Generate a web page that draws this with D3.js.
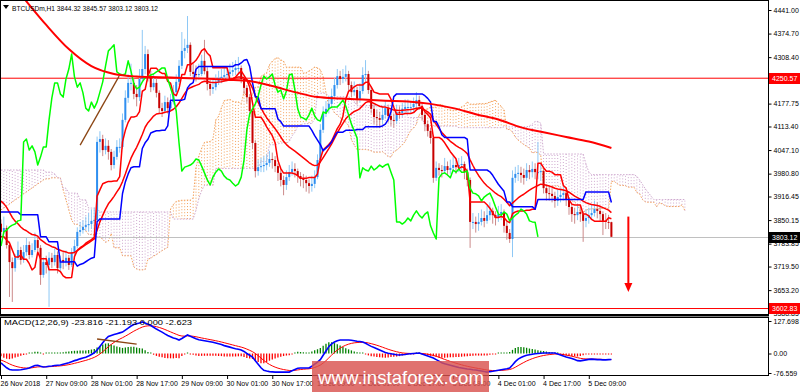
<!DOCTYPE html>
<html><head><meta charset="utf-8">
<script src="https://cdn.jsdelivr.net/npm/d3@7"></script>
<style>body{margin:0;background:#fff}svg{display:block}text{font-family:"Liberation Sans",Arial,sans-serif}</style>
</head><body><svg id="c" width="800" height="392"></svg>
<script>
// ---------------- DATA (BTCUSDm, H1) ----------------
const opens=[3840,3817,3828,3780,3732,3715,3744,3766,3738,3760,3780,3752,3766,3794,3772,3696,3732,3724,3744,3732,
3752,3715,3738,3732,3744,3724,3760,3777,3817,3822,3831,3836,3839,3848,3850,4070,4078,4047,4059,4042,
4005,4028,4056,4056,4132,4194,4236,4236,4205,4196,4247,4275,4317,4253,4224,4236,4208,4165,4157,4182,
4165,4182,4210,4239,4284,4326,4334,4343,4267,4261,4258,4261,4298,4269,4233,4219,4224,4239,4250,4253,
4258,4261,4267,4272,4278,4278,4247,4222,4196,4157,4067,3988,3999,4002,4005,4011,4022,4019,4002,3983,
3963,3949,3971,3985,3994,3988,3974,3966,3963,3954,3946,3952,3971,4019,4104,4149,4163,4177,4199,4230,
4255,4247,4253,4261,4230,4210,4216,4191,4213,4258,4261,4216,4163,4140,4137,4132,4146,4165,4143,4132,
4129,4154,4151,4163,4168,4168,4168,4177,4188,4171,4146,4120,4101,4081,3969,3997,3991,3988,4002,3991,
3997,4005,3999,4005,4008,3985,3963,3845,3845,3839,3845,3856,3848,3864,3876,3864,3856,3867,3873,3834,
3814,3797,3969,3980,3983,3977,3969,3991,3985,3994,3985,3985,3988,3940,3926,3924,3918,3904,3915,3921,
3926,3909,3887,3867,3864,3873,3867,3848,3856,3864,3870,3881,3876,3867,3848,3845,3844.32];
const highs=[3852,3860,3835,3790,3745,3755,3790,3775,3780,3800,3790,3785,3815,3805,3780,3745,3750,3760,3758,3770,
3762,3750,3760,3765,3752,3772,3795,3830,3845,3850,3860,3870,3880,3885,4085,4100,4090,4080,4075,4050,
4045,4075,4080,4150,4215,4260,4290,4250,4230,4275,4385,4340,4330,4270,4260,4250,4215,4180,4200,4195,
4205,4230,4260,4300,4379,4360,4424,4350,4290,4285,4290,4315,4357,4280,4245,4245,4260,4270,4275,4280,
4282,4290,4295,4300,4309,4285,4255,4230,4205,4165,4075,4020,4025,4030,4035,4045,4040,4030,4010,3995,
3975,3990,4005,4015,4010,3995,3985,3980,3975,3965,3975,3990,4035,4120,4170,4185,4200,4220,4250,4275,
4270,4275,4285,4270,4240,4240,4225,4235,4280,4300,4270,4225,4175,4160,4155,4170,4185,4175,4160,4150,
4175,4170,4180,4190,4190,4185,4195,4210,4200,4180,4155,4130,4110,4090,4015,4010,4005,4025,4015,4020,
4030,4020,4025,4030,4015,3995,3970,3870,3860,3870,3880,3875,3890,3900,3885,3875,3890,3895,3880,3845,
3825,3990,4000,4005,4000,3995,4010,4005,4015,4010,4070,4010,3995,3950,3945,3940,3930,3935,3940,3945,
3935,3915,3895,3885,3895,3890,3875,3880,3885,3895,3905,3900,3890,3875,3870,3865,3845.57];
const lows=[3805,3810,3770,3634,3620,3705,3738,3725,3730,3750,3740,3745,3760,3760,3668,3688,3700,3606,3715,3722,
3700,3705,3712,3720,3710,3718,3750,3770,3805,3812,3820,3818,3825,3820,3845,4040,4030,4035,4020,3990,
3995,4020,4040,4050,4125,4180,4215,4190,4170,4185,4240,4260,4240,4210,4215,4195,4150,4140,4150,4150,
4160,4175,4200,4230,4275,4305,4320,4255,4245,4240,4245,4255,4260,4215,4200,4205,4215,4230,4235,4240,
4245,4250,4255,4258,4262,4235,4205,4180,4140,4050,3970,3975,3985,3985,3990,4000,3995,3985,3960,3945,
3920,3935,3960,3975,3970,3955,3945,3940,3930,3925,3930,3940,3965,4010,4095,4140,4150,4165,4190,4220,
4230,4235,4240,4215,4195,4200,4175,4180,4205,4240,4205,4150,4120,4115,4110,4120,4135,4125,4115,4110,
4120,4135,4140,4150,4150,4150,4155,4165,4160,4130,4100,4085,4065,3955,3960,3975,3970,3980,3975,3980,
3985,3980,3985,3990,3965,3945,3772,3825,3815,3820,3835,3830,3840,3850,3840,3835,3845,3850,3815,3795,
3786,3746,3955,3960,3955,3950,3960,3965,3970,3965,3965,3960,3925,3905,3905,3900,3885,3890,3900,3905,
3890,3865,3845,3840,3850,3845,3789,3830,3840,3850,3860,3855,3845,3808,3825,3825,3803.12];
const closes=[3817,3828,3780,3732,3715,3744,3766,3738,3760,3780,3752,3766,3794,3772,3696,3732,3724,3744,3732,3752,
3715,3738,3732,3744,3724,3760,3777,3817,3822,3831,3836,3839,3848,3850,4070,4078,4047,4059,4042,4005,
4028,4056,4056,4132,4194,4236,4236,4205,4196,4247,4275,4317,4253,4224,4236,4208,4165,4157,4182,4165,
4182,4210,4239,4284,4326,4334,4343,4267,4261,4258,4261,4298,4269,4233,4219,4224,4239,4250,4253,4258,
4261,4267,4272,4278,4278,4247,4222,4196,4157,4067,3988,3999,4002,4005,4011,4022,4019,4002,3983,3963,
3949,3971,3985,3994,3988,3974,3966,3963,3954,3946,3952,3971,4019,4104,4149,4163,4177,4199,4230,4255,
4247,4253,4261,4230,4210,4216,4191,4213,4258,4261,4216,4163,4140,4137,4132,4146,4165,4143,4132,4129,
4154,4151,4163,4168,4168,4168,4177,4188,4171,4146,4120,4101,4081,3969,3997,3991,3988,4002,3991,3997,
4005,3999,4005,4008,3985,3963,3845,3845,3839,3845,3856,3848,3864,3876,3864,3856,3867,3873,3834,3814,
3797,3969,3980,3983,3977,3969,3991,3985,3994,3985,3985,3988,3940,3926,3924,3918,3904,3915,3921,3926,
3909,3887,3867,3864,3873,3867,3848,3856,3864,3870,3881,3876,3867,3848,3845,3844.32,3803.12];

// MACD(12,26,9) main line
const macd=[-37,-47,-56,-63,-65,-65,-65,-64,-62,-60,-57,-52,-47,-46,-50,-53,-52,-50,-49,-47,-46,
-45,-42,-39,-36,-32,-28,-25,-21,-18,-15,-10,-4,3,14,28,42,56,67,71,75,78,81,84,92,100,108,114,117,120,124,
120,115,110,103,96,90,84,77,71,66,61,58,53,59,66,73,68,63,58,54,52,50,48,46,44,41,38,35,31,28,25,22,
19,17,14,8,0,-7,-14,-28,-42,-56,-66,-69,-71,-72,-73,-73,-73,-73,-73,-73,-68,-63,-58,-57,-57,-57,-57,-50,
-42,-34,-24,-7,10,27,38,45,50,53,53,53,53,52,50,48,47,45,40,34,28,24,19,14,9,4,1,-1,-3,-5,-6,-5,
-4,-2,-1,0,1,2,-2,-6,-10,-14,-18,-24,-30,-36,-40,-43,-46,-49,-52,-55,-57,-59,-61,-62,-64,-65,
-67,-69,-71,-73,-71,-70,-68,-66,-64,-62,-60,-57,-45,-32,-22,-16,-11,-7,-5,-3,-1,0,1,2,2,2,2,2,
-2,-6,-10,-14,-17,-20,-24,-28,-29,-27,-25,-23,-22,-23,-24,-24,-25,-25,-24,-23.816];
const signalSeed=-23;

const tenkanHead=[3803,3803,3794,3786,3766,3746,3746,3752];
const kijunHead=[3873,3873,3873,3873,3873,3873,3873,3865,3865,3865,3865,3865,3865,3865,3803,3803,3803,3789,3789,3789,3789,3732,3732,3732,3732];
const spanAHead=[3879,3884,3890,3895,3901,3907,3912,3918,3924,3929,3935,3940,3946,3952,3957,3963,3966,3966,3969,3969,3969,3969,3935,3907,3879,3850];
const spanBHead=[3991,3991,3991,3991,3991,3991,3991,3991,3991,3991,3991,3991,3991,3991,3991,3991,3985,3985,3985,3980,3969,3969,3940,3940,3926,3926,3926,3926,3907,3907,3907,3884,3884,3884,3884,
3873,3873,3873,3873,3873,3873,3873,3873,3873,3873,3873,3873,3873,3873,3873,3873,3873,3873,3873,3873,3873,3873,3873,3873,3873,3873];
const ema21Seed=3912;
const ma200Step=8;
const ma200=[4553,4475,4399,4331,4283,4261,4254,4252,4250,4248,4245,4241,4227,4210,4196,4192,4189,4186,4184,4177,4165,4148,4133,4111,4097,4084,4071,4053];

const priceTicks=[4441.00,4374.70,4308.40,4242.10,4177.75,4113.40,4047.10,3980.80,3916.45,3850.15,3783.85,3719.50,3653.20,3588.85];
const macdTicks=[127.698,0,-76.559];
const macdTickLabels=["127.698","0.00","-76.559"];
const timeTickBars=[0,16,32,48,64,80,96,112,128,144,160,176,192,208];
const timeTickLabels=["26 Nov 2018","27 Nov 09:00","28 Nov 01:00","28 Nov 17:00","29 Nov 09:00","30 Nov 01:00","30 Nov 17:00","1 Dec 09:00","2 Dec 01:00","2 Dec 17:00","3 Dec 09:00","4 Dec 01:00","4 Dec 17:00","5 Dec 09:00"];
const levelPrices=[4250.57,3602.83];
const lastPrice=3803.12;
const trendMain=[[28,4061],[41.8,4255]];
const trendMacd=[[34,57],[48,37]];
const arrowBar=222, arrowFrom=3860, arrowTo=3648;

// ---------------- INDICATORS ----------------
const N=closes.length, NC=N+26;
function midRange(i,len){let hh=-Infinity,ll=Infinity;for(let k=Math.max(0,i-len+1);k<=i;k++){hh=Math.max(hh,highs[k]);ll=Math.min(ll,lows[k]);}return (hh+ll)/2;}
const tenkan=d3.range(N).map(i=>i<tenkanHead.length?tenkanHead[i]:midRange(i,9));
const kijun=d3.range(N).map(i=>i<kijunHead.length?kijunHead[i]:midRange(i,26));
const spanA=d3.range(NC).map(j=>j<spanAHead.length?spanAHead[j]:(tenkan[j-26]+kijun[j-26])/2);
const spanB=d3.range(NC).map(j=>j<spanBHead.length?spanBHead[j]:midRange(j-26,52));
let e21=ema21Seed; const ema21=closes.map(c=>(e21+= (c-e21)*2/22));
let sg=signalSeed; const signal=macd.map(v=>(sg+=(v-sg)*2/10));
const hist=macd.map((v,i)=>v-signal[i]);

// ---------------- DRAW ----------------
const svg=d3.select("#c");
const R=768;
const x=d3.scaleLinear().domain([0,216]).range([1,611.4]);
const y=d3.scaleLinear().domain([3588.85,4441]).range([313,10]);
const m=d3.scaleLinear().domain([-76.559,127.698]).range([373,321]);
const defs=svg.append("defs");
defs.append("clipPath").attr("id","cm").append("rect").attr("x",1).attr("y",1).attr("width",R-1).attr("height",313);
defs.append("clipPath").attr("id","cs").append("rect").attr("x",1).attr("y",318).attr("width",R-1).attr("height",57);
svg.append("rect").attr("width",800).attr("height",392).attr("fill","#fff");

const g=svg.append("g").attr("clip-path","url(#cm)");
// cloud
const up="#f4a460", dn="#cfa9cf";
g.append("g").selectAll("line").data(d3.range(NC)).join("line")
 .attr("x1",j=>x(j)).attr("x2",j=>x(j)).attr("y1",j=>y(spanA[j])).attr("y2",j=>y(spanB[j]))
 .attr("stroke",j=>spanA[j]>=spanB[j]?up:dn).attr("stroke-width",1).attr("stroke-dasharray","1,2");
const lineIdx=()=>d3.line().x((d,i)=>x(i)).y(d=>y(d));
g.append("path").attr("d",lineIdx()(spanA)).attr("fill","none").attr("stroke",up).attr("stroke-dasharray","1.5,1.5");
g.append("path").attr("d",lineIdx()(spanB)).attr("fill","none").attr("stroke",dn).attr("stroke-dasharray","1.5,1.5");
// levels
levelPrices.forEach(p=>g.append("line").attr("x1",0).attr("x2",R).attr("y1",y(p)+0.5).attr("y2",y(p)+0.5).attr("stroke","#ff0000"));
g.append("line").attr("x1",0).attr("x2",R).attr("y1",Math.round(y(lastPrice))+0.5).attr("y2",Math.round(y(lastPrice))+0.5).attr("stroke","#c0c0c0");
// candles
const cg=g.append("g");
d3.range(N).forEach(i=>{
  const bull=closes[i]>=opens[i];
  cg.append("line").attr("x1",x(i)).attr("x2",x(i)).attr("y1",y(highs[i])).attr("y2",y(lows[i]))
    .attr("stroke",bull?"#8ec8f5":"#cc8a8a").attr("stroke-width",1);
  const t=y(Math.max(opens[i],closes[i])), b=y(Math.min(opens[i],closes[i]));
  cg.append("rect").attr("x",x(i)-1).attr("width",2).attr("y",t).attr("height",Math.max(1,b-t))
    .attr("fill",bull?"#2f8ff0":"#c80000");
});
// indicator lines
const L=(data,color,w)=>g.append("path").attr("d",d3.line().x((d,i)=>x(i)).y(d=>y(d))(data)).attr("fill","none").attr("stroke",color).attr("stroke-width",w).attr("stroke-linejoin","round");
L(ema21,"#ff0000",1.5);
L(tenkan,"#ff0000",1.5);
L(kijun,"#0000ff",1.5);
L(closes.slice(26),"#00ff00",1.5);
g.append("path").attr("d",d3.line().curve(d3.curveMonotoneX).x((d,i)=>x(i*ma200Step)).y(d=>y(d))(ma200)).attr("fill","none").attr("stroke","#ff0000").attr("stroke-width",2);
g.append("line").attr("x1",x(trendMain[0][0])).attr("y1",y(trendMain[0][1])).attr("x2",x(trendMain[1][0])).attr("y2",y(trendMain[1][1])).attr("stroke","#8b4513").attr("stroke-width",1.3);
// arrow
g.append("line").attr("x1",x(arrowBar)).attr("x2",x(arrowBar)).attr("y1",y(arrowFrom)).attr("y2",y(arrowTo)-8).attr("stroke","#ff0000").attr("stroke-width",2);
g.append("path").attr("d",`M${x(arrowBar)-4},${y(arrowTo)-9}L${x(arrowBar)+4},${y(arrowTo)-9}L${x(arrowBar)},${y(arrowTo)}Z`).attr("fill","#ff0000");

// frames
svg.append("rect").attr("x",0.5).attr("y",0.5).attr("width",R).attr("height",314).attr("fill","none").attr("stroke","#000");
svg.append("line").attr("x1",0).attr("x2",R+1).attr("y1",315.5).attr("y2",315.5).attr("stroke","#000").attr("stroke-width",2);
svg.append("rect").attr("x",0.5).attr("y",317.5).attr("width",R).attr("height",58).attr("fill","none").attr("stroke","#000");

// title
svg.append("path").attr("d","M3,5L9,5L6,9Z").attr("fill","#000");
svg.append("text").attr("x",12).attr("y",11).attr("font-size",8).attr("textLength",146).attr("lengthAdjust","spacingAndGlyphs").text("BTCUSDm,H1  3844.32 3845.57 3803.12 3803.12");

// price axis
const pa=svg.append("g").attr("transform",`translate(${R+0.5},0)`).call(d3.axisRight(y).tickValues(priceTicks).tickSize(3).tickPadding(2).tickFormat(d3.format(".2f")));
pa.select(".domain").remove();
pa.selectAll("text").attr("font-size",7).attr("font-family","Liberation Sans,Arial,sans-serif").attr("fill","#000");
pa.selectAll("line").attr("stroke","#000");
function priceBox(p,bg){
  const yy=Math.round(y(p));
  svg.append("rect").attr("x",R+1).attr("y",yy-5).attr("width",31).attr("height",11).attr("fill",bg);
  svg.append("text").attr("x",R+4).attr("y",yy+3).attr("font-size",7).attr("fill","#fff").text(p.toFixed(2));
}
priceBox(levelPrices[0],"#ff0000");
priceBox(lastPrice,"#000000");
priceBox(levelPrices[1],"#ff0000");

// MACD panel
const s=svg.append("g").attr("clip-path","url(#cs)");
s.append("g").selectAll("line").data(hist).join("line")
 .attr("x1",(d,i)=>x(i)).attr("x2",(d,i)=>x(i))
 .attr("y1",m(0)).attr("y2",d=>{const h=m(d)-m(0);return m(0)+(Math.abs(h)<1?(d>=0?-1:1):h);})
 .attr("stroke",d=>d>=0?"#008000":"#ff0000").attr("stroke-width",1.3);
s.append("path").attr("d",d3.line().x((d,i)=>x(i)).y(d=>m(d))(signal)).attr("fill","none").attr("stroke","#ff0000").attr("stroke-width",1);
s.append("path").attr("d",d3.line().x((d,i)=>x(i)).y(d=>m(d))(macd)).attr("fill","none").attr("stroke","#0000ff").attr("stroke-width",1.6);
s.append("line").attr("x1",x(trendMacd[0][0])).attr("y1",m(trendMacd[0][1])).attr("x2",x(trendMacd[1][0])).attr("y2",m(trendMacd[1][1])).attr("stroke","#8b4513").attr("stroke-width",1.3);
svg.append("text").attr("x",4).attr("y",325).attr("font-size",8).attr("textLength",188).attr("lengthAdjust","spacingAndGlyphs").text("MACD(12,26,9) -23.816 -21.193 0.000 -2.623");
const ma=svg.append("g").attr("transform",`translate(${R+0.5},0)`).call(d3.axisRight(m).tickValues(macdTicks).tickSize(3).tickPadding(2).tickFormat((d,i)=>macdTickLabels[i]));
ma.select(".domain").remove();
ma.selectAll("text").attr("font-size",7).attr("font-family","Liberation Sans,Arial,sans-serif").attr("fill","#000");

// time axis
const ta=svg.append("g").attr("transform","translate(0,376)").call(d3.axisBottom(x).tickValues(timeTickBars).tickSize(3).tickPadding(2).tickFormat((d,i)=>timeTickLabels[i]));
ta.select(".domain").remove();
ta.selectAll("text").attr("font-size",7).attr("font-family","Liberation Sans,Arial,sans-serif").attr("text-anchor","start").attr("dx",-1).attr("fill","#000");

// watermark
svg.append("rect").attr("x",312).attr("y",361).attr("width",177).attr("height",31).attr("fill","#d9534f").attr("opacity",0.82);
svg.append("text").attr("x",318).attr("y",384).attr("font-size",19).attr("fill","#fff").attr("textLength",166).attr("lengthAdjust","spacingAndGlyphs").text("www.instaforex.com");
</script></body></html>
